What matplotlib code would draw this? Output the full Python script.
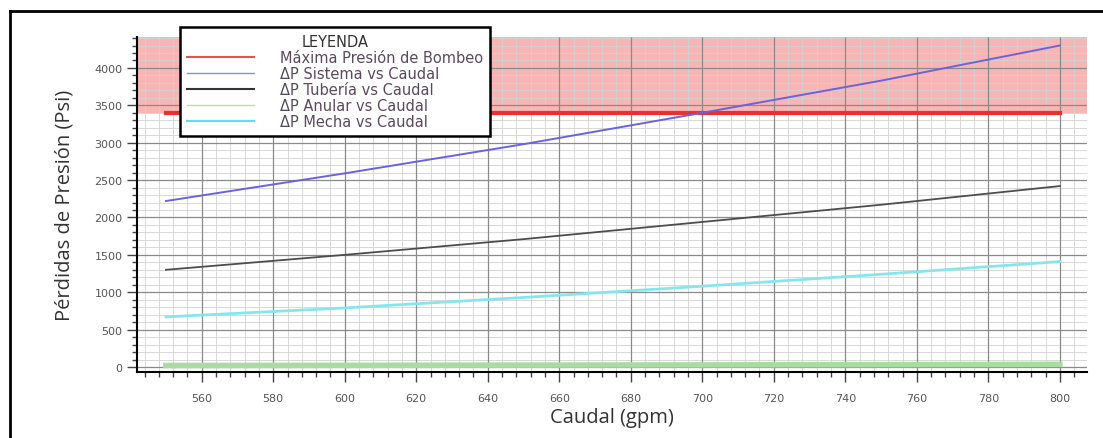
import matplotlib
matplotlib.use("Agg")
import matplotlib.pyplot as plt
from matplotlib.ticker import MultipleLocator
from matplotlib.lines import Line2D

# data
caudal = [550, 600, 650, 700, 750, 800]
sistema = [2220, 2590, 2980, 3400, 3830, 4300]
tuberia = [1300, 1500, 1710, 1940, 2170, 2420]
anular = [20, 22, 25, 28, 31, 35]
mecha = [670, 790, 930, 1080, 1240, 1410]
max_presion = 3400

etiquetas = ["Máxima Presión de Bombeo", "ΔP Sistema vs Caudal", "ΔP Tubería vs Caudal",
             "ΔP Anular vs Caudal", "ΔP Mecha vs Caudal"]

fig = plt.figure(figsize=(11.03, 4.39), dpi=100)
ax = fig.add_axes([137/1103, 1 - 373/439, 950/1103, 335/439])

ax.set_xlim(541.9, 807.6)
ax.set_ylim(-67, 4414)

# zona por encima de la presion maxima
ax.axhspan(max_presion, 4414, color="#f7a8a8", alpha=0.85, lw=0, zorder=0)

ax.xaxis.set_major_locator(MultipleLocator(20))
ax.xaxis.set_minor_locator(MultipleLocator(4))
ax.yaxis.set_major_locator(MultipleLocator(500))
ax.yaxis.set_minor_locator(MultipleLocator(100))
ax.grid(which="minor", color="#d2d2d2", lw=0.6)
# major grid drawn on top of the minor one
ax.vlines(ax.get_xticks(), -67, 4414, color="#8a8a8a", lw=0.9, zorder=1.6)
ax.hlines(ax.get_yticks(), 541.9, 807.6, color="#8a8a8a", lw=0.9, zorder=1.6)

ax.plot([caudal[0], caudal[-1]], [max_presion, max_presion], color="#e8302e", lw=3, zorder=3)
ax.plot(caudal, sistema, color="#6d63d9", lw=1.4, zorder=4)
ax.plot(caudal, tuberia, color="#4d4d4d", lw=1.3, zorder=4)
ax.plot(caudal, anular, color="#a8dca0", lw=4, zorder=4)
ax.plot(caudal, mecha, color="#86e6ee", lw=2, zorder=4)

for s in ["top", "right"]:
    ax.spines[s].set_visible(False)
for s in ["left", "bottom"]:
    ax.spines[s].set_color("black")
    ax.spines[s].set_linewidth(1.5)
    ax.spines[s].set_zorder(5)

ax.tick_params(which="major", direction="out", length=7, width=1, color="#444444",
               labelsize=8, labelcolor="#555555")
ax.tick_params(which="minor", direction="out", length=3.5, width=1, color="#444444")
ax.tick_params(axis="x", pad=8)

ax.set_xlabel("Caudal (gpm)", fontsize=14.5, color="#333333", family="Open Sans", labelpad=3)
ax.set_ylabel("Pérdidas de Presión (Psi)", fontsize=14.5, color="#333333", family="Open Sans", labelpad=14)

handles = [Line2D([], [], color="#e8504e", lw=1.5),
           Line2D([], [], color="#7b8fe0", lw=1),
           Line2D([], [], color="#333333", lw=1.5),
           Line2D([], [], color="#b8e0a0", lw=1),
           Line2D([], [], color="#5ce0ea", lw=1.5)]
leg = fig.legend(handles, etiquetas, title="LEYENDA", loc="upper left",
                 bbox_to_anchor=(180/1103, 1 - 28/439), fontsize=10.5, title_fontsize=10.5,
                 frameon=True, fancybox=False, framealpha=1, edgecolor="black",
                 handlelength=4.6, handletextpad=1.8, labelspacing=0.08,
                 borderpad=0.45, borderaxespad=0)
leg.get_frame().set_linewidth(1.8)
for t in leg.get_texts():
    t.set_color("#5a4a5a")
leg.get_title().set_color("#333333")
leg.set_zorder(10)

# marco negro del recorte
fig.add_artist(Line2D([10/1103, 1], [1 - 12/439, 1 - 12/439], color="black", lw=2))
fig.add_artist(Line2D([10/1103, 10/1103], [0, 1 - 12/439], color="black", lw=2))

fig.savefig("out.png", dpi=100)
